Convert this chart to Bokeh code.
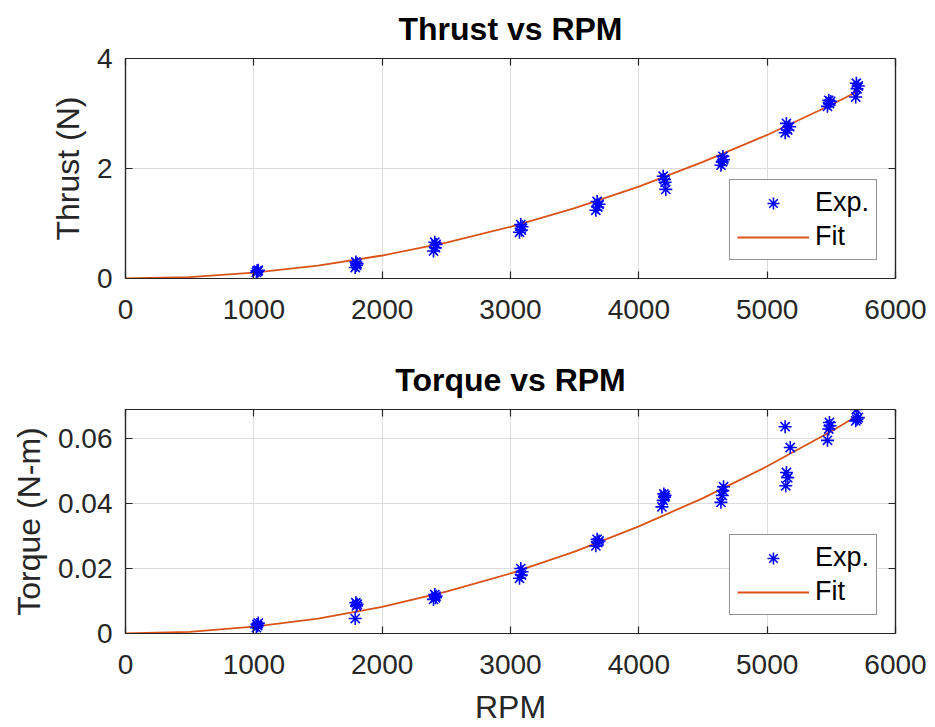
from bokeh.plotting import figure
from bokeh.models import (LinearAxis, Legend, LegendItem, Range1d, FixedTicker,
                          CustomLabelingPolicy)
from bokeh.layouts import column
from bokeh.embed import file_html
from bokeh.resources import INLINE

# ---- data ----
thrust_rpm = [1020, 1030, 1025, 1035,
              1790, 1800, 1805, 1795,
              2400, 2415, 2420, 2410,
              3070, 3085, 3090, 3080,
              3665, 3680, 3690, 3675,
              4190, 4200, 4205, 4210,
              4640, 4650, 4660, 4655,
              5140, 5160, 5175, 5150,
              5470, 5485, 5495, 5480,
              5690, 5700, 5710, 5695]
thrust_exp = [0.11, 0.13, 0.14, 0.15,
              0.20, 0.24, 0.27, 0.30,
              0.50, 0.56, 0.62, 0.66,
              0.84, 0.88, 0.94, 0.98,
              1.24, 1.30, 1.35, 1.40,
              1.86, 1.80, 1.75, 1.62,
              2.06, 2.12, 2.16, 2.22,
              2.65, 2.70, 2.76, 2.82,
              3.13, 3.18, 3.22, 3.24,
              3.30, 3.45, 3.50, 3.55]

torque_rpm = [1020, 1030, 1025, 1035,
              1790, 1800, 1805, 1795,
              2400, 2415, 2420, 2410,
              3070, 3085, 3090, 3080,
              3665, 3680, 3690, 3675,
              4180, 4190, 4200, 4205, 4195,
              4640, 4650, 4655, 4660,
              5140, 5180, 5150, 5160, 5145,
              5470, 5480, 5490, 5485,
              5690, 5700, 5710, 5695]
torque_exp = [0.0018, 0.0024, 0.0028, 0.0032,
              0.0046, 0.0085, 0.0090, 0.0095,
              0.0105, 0.0110, 0.0115, 0.0120,
              0.0170, 0.0180, 0.0190, 0.0200,
              0.0270, 0.0280, 0.0285, 0.0290,
              0.0390, 0.0410, 0.0420, 0.0425, 0.0430,
              0.0404, 0.0425, 0.0440, 0.0452,
              0.0637, 0.0573, 0.0496, 0.0480, 0.0455,
              0.0595, 0.0630, 0.0640, 0.0650,
              0.0655, 0.0660, 0.0665, 0.0690]

fit_rpm = [0, 500, 1000, 1500, 2000, 2500, 3000, 3500, 4000, 4500, 5000, 5500, 5710]
thrust_fit = [0.0, 0.026, 0.105, 0.235, 0.418, 0.653, 0.94, 1.28, 1.67, 2.12, 2.61, 3.16, 3.41]
torque_fit = [0.0, 0.0005, 0.0021, 0.0046, 0.0082, 0.0129, 0.0185, 0.0252, 0.033, 0.0417, 0.0515, 0.0623, 0.0672]

x_ticks = [0, 1000, 2000, 3000, 4000, 5000, 6000]
thrust_ticks = [0, 2, 4]
torque_ticks = [0, 0.02, 0.04, 0.06]

FONT = "Liberation Sans"
AX = "#262626"
BLUE = "#0000FF"
ORANGE = "#D95319"

HIDE_LABELS = CustomLabelingPolicy(code="return []")


def style_axis(ax, ticks, show_labels=True):
    ax.ticker = FixedTicker(ticks=ticks)
    ax.axis_line_color = AX
    ax.axis_line_width = 1.2
    ax.major_tick_line_color = AX
    ax.major_tick_line_width = 1.2
    ax.major_tick_in = 7
    ax.major_tick_out = 0
    ax.minor_tick_line_color = None
    ax.major_label_text_font = FONT
    ax.major_label_text_color = AX
    ax.axis_label_text_font = FONT
    ax.axis_label_text_color = AX
    ax.axis_label_text_font_size = "32px"
    ax.axis_label_text_font_style = "normal"
    ax.axis_label_standoff = 8
    if show_labels:
        ax.major_label_text_font_size = "28px"
    else:
        ax.major_label_text_font_size = "1px"
        ax.major_label_standoff = 0
        ax.major_label_policy = HIDE_LABELS


def make_fig(title, xs, ys, fx, fy, y_end, yticks, ylabel, xlabel, height,
             mb_top, mb_bottom, title_standoff):
    p = figure(width=927, height=height, output_backend="svg",
               toolbar_location=None, x_range=Range1d(0, 6000),
               y_range=Range1d(0, y_end),
               min_border_left=125, min_border_right=32,
               min_border_top=mb_top, min_border_bottom=mb_bottom)
    p.title.text = title
    p.title.text_font = FONT
    p.title.text_font_size = "32px"
    p.title.text_font_style = "bold"
    p.title.text_color = "#000000"
    p.title.align = "center"
    p.title.standoff = title_standoff
    p.outline_line_color = AX
    p.outline_line_width = 1.2
    p.background_fill_color = "white"

    style_axis(p.xaxis[0], x_ticks)
    style_axis(p.yaxis[0], yticks)
    p.xaxis[0].major_label_standoff = 21
    p.xaxis[0].axis_label_standoff = 12
    p.yaxis[0].major_label_standoff = 13
    p.xaxis[0].axis_label = xlabel
    p.yaxis[0].axis_label = ylabel
    p.yaxis[0].major_label_overrides = {0: "0"}

    top = LinearAxis()
    style_axis(top, x_ticks, show_labels=False)
    p.add_layout(top, "above")
    right = LinearAxis()
    style_axis(right, yticks, show_labels=False)
    p.add_layout(right, "right")

    p.xgrid.ticker = FixedTicker(ticks=x_ticks)
    p.ygrid.ticker = FixedTicker(ticks=yticks)
    for g in (p.xgrid[0], p.ygrid[0]):
        g.grid_line_color = "#DCDCDC"
        g.grid_line_width = 1

    ln = p.line(fx, fy, line_color=ORANGE, line_width=1.8)
    sc = p.scatter(xs, ys, marker="asterisk", size=13, line_color=BLUE,
                   line_width=1.6)

    legend = Legend(items=[LegendItem(label="Exp.", renderers=[sc]),
                           LegendItem(label="Fit", renderers=[ln])],
                    location="bottom_right", margin=18, padding=7, spacing=3,
                    glyph_width=72, glyph_height=30, label_height=30,
                    label_standoff=6, label_text_font=FONT,
                    label_text_font_size="27px", label_text_color="#000000",
                    border_line_color=AX, border_line_width=1,
                    background_fill_color="white", background_fill_alpha=1)
    p.add_layout(legend)
    return p


p1 = make_fig("Thrust vs RPM", thrust_rpm, thrust_exp, fit_rpm, thrust_fit,
              4, thrust_ticks, "Thrust (N)", None, 340, 56, 62, 16)
p2 = make_fig("Torque vs RPM", torque_rpm, torque_exp, fit_rpm, torque_fit,
              0.069, torque_ticks, "Torque (N-m)", "RPM", 387, 69, 94, 15)

layout = column(p1, p2, spacing=0)
open("out.html", "w").write(file_html(layout, INLINE))
